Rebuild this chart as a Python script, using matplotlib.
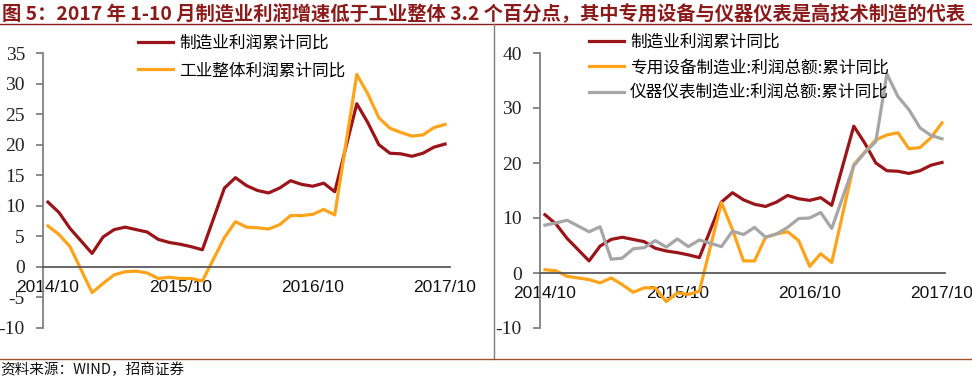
import matplotlib
matplotlib.use('Agg')
import matplotlib.pyplot as plt
from matplotlib.lines import Line2D

plt.rcParams['font.family'] = ['Noto Sans CJK SC', 'DejaVu Sans']

# month offsets from 2014/10 (January has no cumulative figure)
months = [0, 1, 2, 4, 5, 6, 7, 8, 9, 10, 11, 12, 13, 14,
          16, 17, 18, 19, 20, 21, 22, 23, 24, 25, 26,
          28, 29, 30, 31, 32, 33, 34, 35, 36]
tick_pos = [0, 12, 24, 36]
tick_labels = ['2014/10', '2015/10', '2016/10', '2017/10']

mfg = [10.6, 8.9, 6.3, 2.2, 4.9, 6.1, 6.5, 6.1, 5.7, 4.5, 4.0, 3.7, 3.3, 2.8,
       12.9, 14.6, 13.3, 12.5, 12.1, 12.9, 14.1, 13.5, 13.2, 13.7, 12.3,
       26.7, 23.6, 20.0, 18.6, 18.5, 18.1, 18.6, 19.6, 20.1]
industry = [6.7, 5.3, 3.3, -4.2, -2.7, -1.3, -0.8, -0.7, -1.0, -1.9, -1.7, -1.9, -1.9, -2.3,
            4.8, 7.4, 6.5, 6.4, 6.2, 6.9, 8.4, 8.4, 8.6, 9.4, 8.5,
            31.5, 28.3, 24.4, 22.7, 22.0, 21.4, 21.6, 22.8, 23.3]
special_equip = [0.6, 0.4, -0.6, -1.2, -1.8, -0.9, -2.1, -3.5, -2.7, -2.7, -5.2, -3.6, -3.9, -3.3,
                 12.8, 7.9, 2.2, 2.2, 6.5, 7.1, 7.5, 5.9, 1.2, 3.5, 1.9,
                 19.7, 22.0, 24.2, 25.1, 25.5, 22.6, 22.8, 24.6, 27.3]
instrument = [8.7, 9.1, 9.6, 7.5, 8.4, 2.5, 2.7, 4.4, 4.6, 5.9, 4.7, 6.2, 4.8, 6.0,
              4.8, 7.6, 7.0, 8.3, 6.5, 7.1, 8.3, 9.9, 10.0, 11.0, 8.1,
              19.5, 21.9, 23.9, 36.2, 32.1, 29.7, 26.4, 25.0, 24.4]

RED = '#9A1519'
ORANGE = '#FFA31A'
GRAY = '#A6A6A6'
TITLE_RED = '#8B1A1A'

fig = plt.figure(figsize=(9.72, 3.81), dpi=100)

fig.text(0.002, 0.963, '图 5：2017 年 1-10 月制造业利润增速低于工业整体 3.2 个百分点，其中专用设备与仪器仪表是高技术制造的代表',
         fontsize=13.9, fontweight='bold', color=TITLE_RED, va='center', ha='left')
fig.add_artist(Line2D([0, 1], [1 - 24 / 381, 1 - 24 / 381], color=TITLE_RED, lw=1.0))
fig.add_artist(Line2D([494 / 972, 494 / 972], [1 - 24 / 381, 1 - 359 / 381], color='#7F7F7F', lw=1.0))
fig.add_artist(Line2D([0, 1], [1 - 359 / 381, 1 - 359 / 381], color='#A0522D', lw=1.0))
fig.text(0.0, 1 - 370 / 381, '资料来源：WIND，招商证券', fontsize=10.5, va='center', ha='left', color='#111111')


def style_axes(ax, ylim, yticks, xlim):
    ax.spines['top'].set_visible(False)
    ax.spines['right'].set_visible(False)
    ax.spines['bottom'].set_position(('data', 0))
    ax.spines['left'].set_color('#808080')
    ax.spines['left'].set_linewidth(1.3)
    ax.spines['bottom'].set_color('#595959')
    ax.spines['bottom'].set_linewidth(1.3)
    ax.set_xlim(xlim)
    ax.set_ylim(ylim)
    ax.set_yticks(yticks)
    ax.set_yticklabels([str(v) for v in yticks])
    ax.set_xticks(tick_pos)
    ax.set_xticklabels(tick_labels)
    for lab in ax.get_yticklabels():
        lab.set_fontfamily('Liberation Serif')
        lab.set_fontsize(14)
        lab.set_color('#222222')
    for lab in ax.get_xticklabels():
        lab.set_fontfamily('Liberation Sans')
        lab.set_fontsize(12.5)
        lab.set_color('#111111')
    ax.tick_params(axis='y', direction='out', length=5, width=1.3, color='#808080', pad=8)
    ax.tick_params(axis='x', length=0, pad=9.5)
    ax.patch.set_alpha(0)


# left panel
ax1 = fig.add_axes([43 / 972, 1 - 328 / 381, 407 / 972, 275 / 381])
ax1.plot(months, mfg, color=RED, lw=2.3, label='制造业利润累计同比')
ax1.plot(months, industry, color=ORANGE, lw=2.3, label='工业整体利润累计同比')
style_axes(ax1, (-10, 35), list(range(-10, 36, 5)), (-0.45, 36.45))
ax1.legend(loc='upper left', bbox_to_anchor=(138 / 972, 1 - 35 / 381), bbox_transform=fig.transFigure,
           frameon=False, fontsize=12, handlelength=2.1, handletextpad=0.35, labelspacing=0.62,
           borderpad=0, borderaxespad=0)

# right panel
ax2 = fig.add_axes([540 / 972, 1 - 328 / 381, 405 / 972, 275 / 381])
ax2.plot(months, mfg, color=RED, lw=2.3, label='制造业利润累计同比')
ax2.plot(months, special_equip, color=ORANGE, lw=2.3, label='专用设备制造业:利润总额:累计同比')
ax2.plot(months, instrument, color=GRAY, lw=2.3, label='仪器仪表制造业:利润总额:累计同比')
style_axes(ax2, (-10, 40), list(range(-10, 41, 10)), (-0.45, 36.27))
ax2.legend(loc='upper left', bbox_to_anchor=(589 / 972, 1 - 34 / 381), bbox_transform=fig.transFigure,
           frameon=False, fontsize=12, handlelength=2.1, handletextpad=0.35, labelspacing=0.5,
           borderpad=0, borderaxespad=0)

fig.savefig('out.png', dpi=100)
